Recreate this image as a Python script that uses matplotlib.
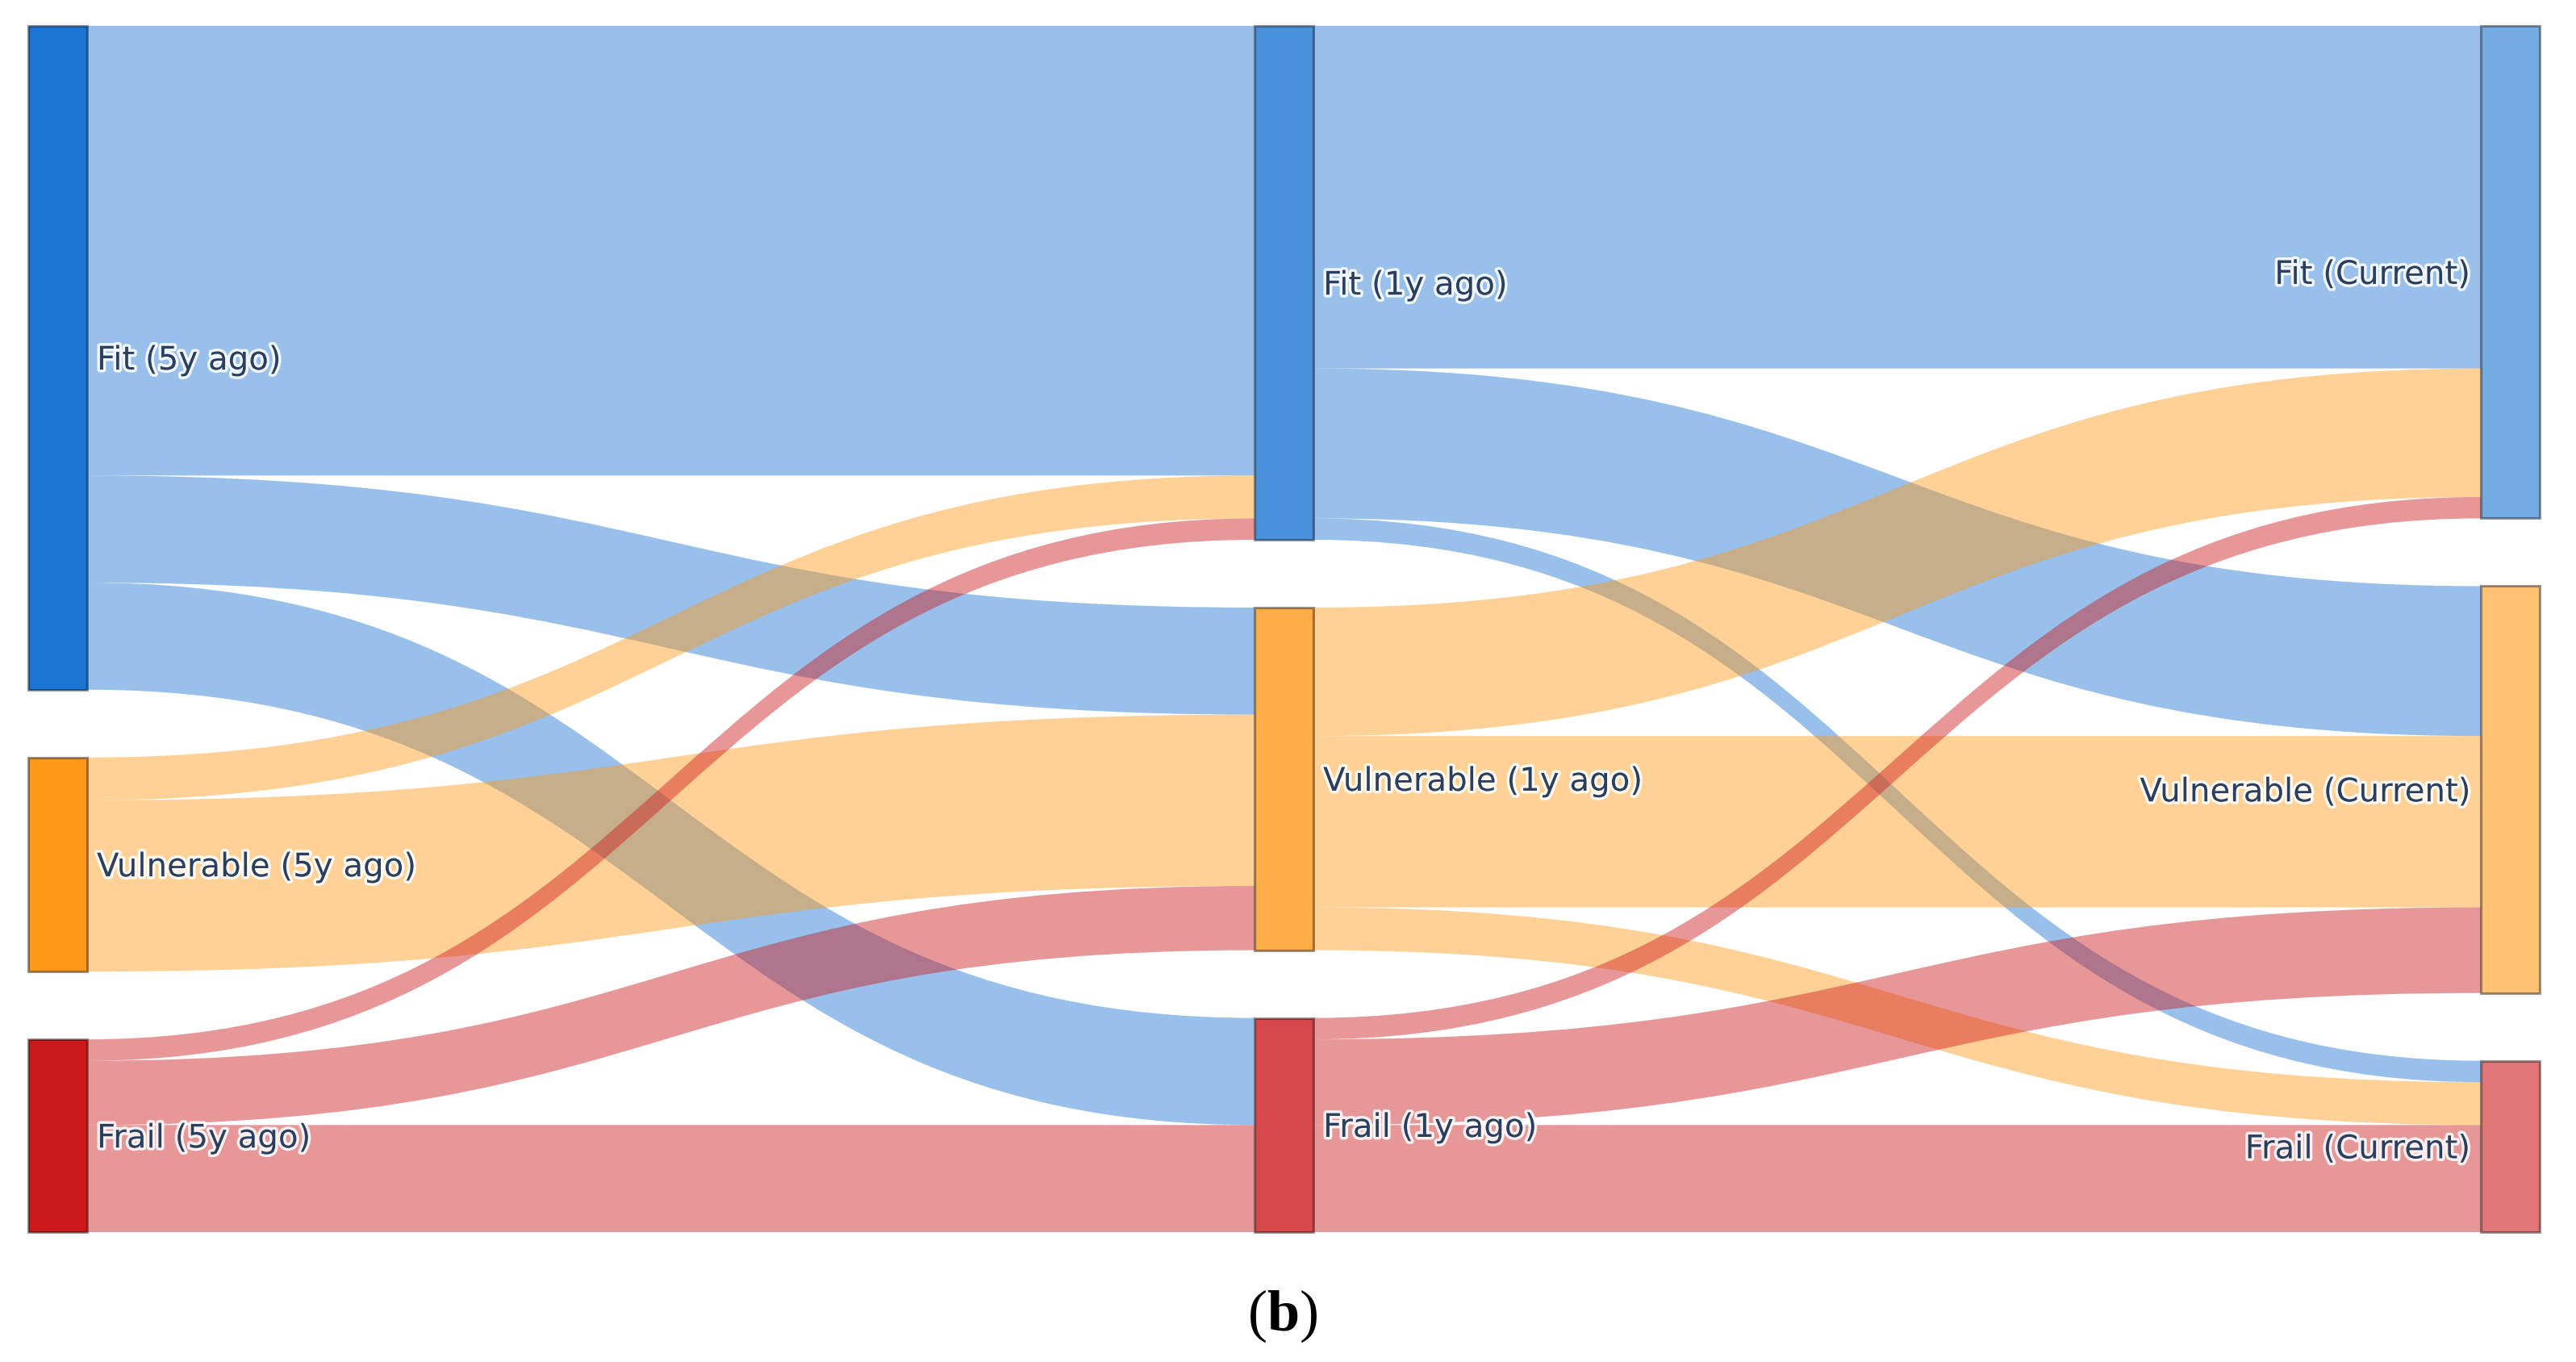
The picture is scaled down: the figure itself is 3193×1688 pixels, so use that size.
import matplotlib
matplotlib.use("Agg")
import matplotlib.pyplot as plt
from matplotlib.path import Path
from matplotlib.patches import PathPatch, Rectangle
import matplotlib.patheffects as pe

# nodes, one column per time point
labels = ['Fit (5y ago)', 'Vulnerable (5y ago)', 'Frail (5y ago)',
          'Fit (1y ago)', 'Vulnerable (1y ago)', 'Frail (1y ago)',
          'Fit (Current)', 'Vulnerable (Current)', 'Frail (Current)']
node_col = [0, 0, 0, 1, 1, 1, 2, 2, 2]
node_state = [0, 1, 2, 0, 1, 2, 0, 1, 2]

# links (source -> target, number of people)
sources = [0, 0, 0, 1, 1, 2, 2, 2, 3, 3, 3, 4, 4, 4, 5, 5, 5]
targets = [3, 4, 5, 3, 4, 3, 4, 5, 6, 7, 8, 6, 7, 8, 6, 7, 8]
values = [21, 5, 5, 2, 8, 1, 3, 5, 16, 7, 1, 6, 8, 2, 1, 4, 5]

# colours per state: Fit, Vulnerable, Frail
state_rgb = [(27, 117, 210), (255, 153, 25), (204, 26, 28)]
node_alpha = [1.0, 0.8, 0.6]   # one per column
link_alpha = 0.45

W, H = 3193, 1688
DPI = 200
fig = plt.figure(figsize=(W / DPI, H / DPI), dpi=DPI)
ax = fig.add_axes([0, 0, 1, 1])
ax.set_xlim(0, W)
ax.set_ylim(H, 0)
ax.axis('off')

# layout in pixels
col_x = [35, 1555, 3075]
node_w = 73
top, bottom, pad = 32, 1527, 84

n = len(labels)
out_sum = [0] * n
in_sum = [0] * n
for s, t, v in zip(sources, targets, values):
    out_sum[s] += v
    in_sum[t] += v
node_val = [max(a, b) for a, b in zip(out_sum, in_sum)]
col_total = max(sum(node_val[i] for i in range(n) if node_col[i] == c) for c in range(3))
scale = (bottom - top - 2 * pad) / col_total

node_y0 = [0.0] * n
for c in range(3):
    y = top
    for i in range(n):
        if node_col[i] == c:
            node_y0[i] = y
            y += node_val[i] * scale + pad


def rgb(c, a=1.0):
    return (c[0] / 255, c[1] / 255, c[2] / 255, a)


def blend(c, a):
    # solid colour of c at alpha a over white
    return tuple((255 - a * (255 - k)) / 255 for k in c)


# links
src_off = list(node_y0)
tgt_off = list(node_y0)
for s, t, v in zip(sources, targets, values):
    h = v * scale
    x0 = col_x[node_col[s]] + node_w
    x1 = col_x[node_col[t]]
    xm = (x0 + x1) / 2
    ya, yb = src_off[s], tgt_off[t]
    verts = [(x0, ya), (xm, ya), (xm, yb), (x1, yb),
             (x1, yb + h), (xm, yb + h), (xm, ya + h), (x0, ya + h), (x0, ya)]
    codes = [Path.MOVETO, Path.CURVE4, Path.CURVE4, Path.CURVE4,
             Path.LINETO, Path.CURVE4, Path.CURVE4, Path.CURVE4, Path.CLOSEPOLY]
    ax.add_patch(PathPatch(Path(verts, codes),
                           facecolor=rgb(state_rgb[node_state[s]], link_alpha),
                           edgecolor='none', zorder=1))
    src_off[s] += h
    tgt_off[t] += h

# nodes and labels
fs = 14.5
cap = 0.729 * fs * DPI / 72
for i in range(n):
    c = node_col[i]
    h = node_val[i] * scale
    ax.add_patch(Rectangle((col_x[c], node_y0[i]), node_w, h,
                           facecolor=blend(state_rgb[node_state[i]], node_alpha[c]),
                           edgecolor=(0, 0, 0, 0.4), linewidth=1.1, zorder=3))
    yc = node_y0[i] + h / 2 + cap / 2
    if c < 2:
        xt, ha = col_x[c] + node_w + 12, 'left'
    else:
        xt, ha = col_x[c] - 13, 'right'
    ax.text(xt, yc, labels[i], ha=ha, va='baseline', fontsize=fs,
            family='DejaVu Sans', color='#2a3f5f', zorder=4,
            path_effects=[pe.withStroke(linewidth=2.5, foreground='white', alpha=0.85)])

# panel caption
plt.rcParams['mathtext.fontset'] = 'custom'
plt.rcParams['mathtext.rm'] = 'Liberation Serif'
plt.rcParams['mathtext.bf'] = 'Liberation Serif:bold'
fig.text(1590 / W, 1 - 1631 / H, r'$\mathrm{(}\mathbf{b}\mathrm{)}$',
         ha='center', va='center', fontsize=26, color='black')

fig.savefig('out.png', dpi=DPI)
